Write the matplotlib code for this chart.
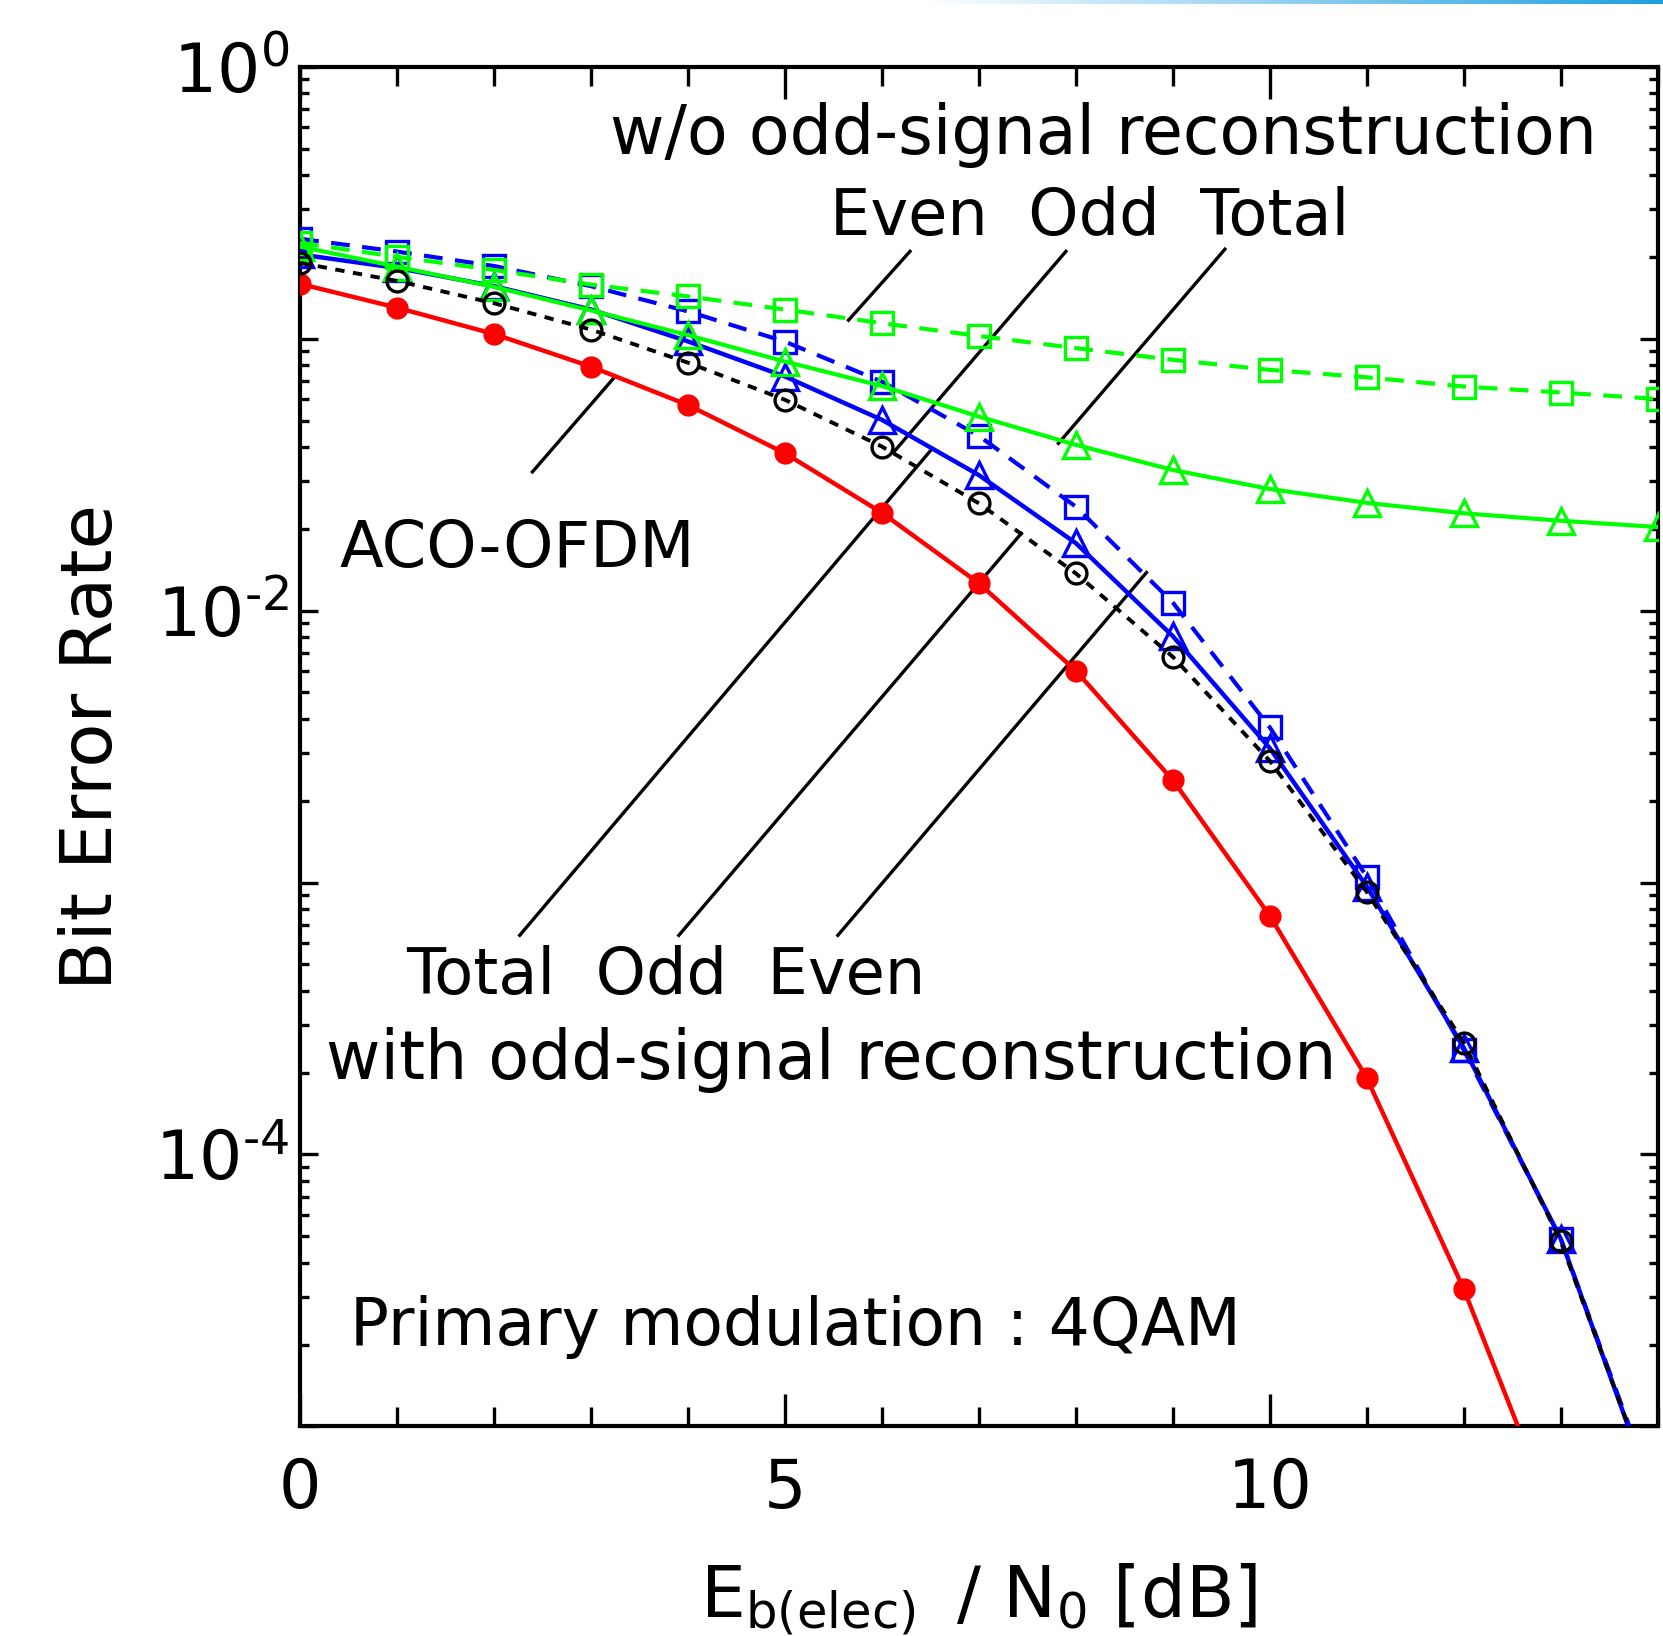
import numpy as np
import matplotlib.pyplot as plt
from matplotlib.ticker import FixedLocator, MultipleLocator, LogLocator, NullFormatter, FuncFormatter
from matplotlib.colors import LinearSegmentedColormap

plt.rcParams['font.family'] = ['DejaVu Sans']
plt.rcParams['mathtext.fontset'] = 'dejavusans'

# Eb(elec)/N0 [dB]
ebn0 = list(range(15))
ebn0_aco = list(range(14))

# BER curves
ber_aco = [0.159, 0.130, 0.104, 0.0789, 0.0570, 0.0379, 0.0229, 0.0126,
           0.00601, 0.00238, 7.55e-4, 1.91e-4, 3.20e-5, 4.0e-6]
ber_rec_total = [0.190, 0.163, 0.135, 0.108, 0.0816, 0.0596, 0.0401, 0.0248,
                 0.0137, 0.00676, 0.00280, 9.24e-4, 2.58e-4, 4.79e-5, 5.1e-6]
ber_rec_odd = [0.204, 0.182, 0.156, 0.128, 0.0977, 0.0726, 0.0503, 0.0315,
               0.0177, 0.00805, 0.00312, 9.67e-4, 2.47e-4, 4.90e-5, 5.0e-6]
ber_rec_even = [0.233, 0.209, 0.185, 0.156, 0.126, 0.0975, 0.0695, 0.0439,
                0.0241, 0.0107, 0.00372, 0.00105, 2.42e-4, 4.9e-5, 5.2e-6]
ber_wo_odd = [0.218, 0.184, 0.155, 0.127, 0.103, 0.0824, 0.0670, 0.0517,
              0.0407, 0.0329, 0.0280, 0.0249, 0.0228, 0.0214, 0.0203]
ber_wo_even = [0.225, 0.200, 0.179, 0.158, 0.143, 0.128, 0.114, 0.1023,
               0.0923, 0.0836, 0.0768, 0.0721, 0.0667, 0.0634, 0.0600]

# annotation texts (x, log10 y, size)
labels = ['w/o odd-signal reconstruction', 'Even  Odd  Total', 'ACO-OFDM',
          'Total  Odd  Even', 'with odd-signal reconstruction',
          'Primary modulation : 4QAM']
label_pos = [(8.28, -0.320), (8.14, -0.620), (2.24, -1.841),
             (3.77, -3.409), (5.48, -3.721), (5.11, -4.70)]
label_size = [48, 46, 46, 46, 48, 46.5]

# pointer lines (x0, log y0, x1, log y1)
pointers = [(2.395, -1.490, 3.248, -1.139),
            (5.655, -0.932, 6.289, -0.679),
            (6.114, -1.420, 7.897, -0.679),
            (7.820, -1.385, 9.537, -0.671),
            (2.264, -3.194, 6.519, -1.404),
            (3.905, -3.194, 7.437, -1.716),
            (5.545, -3.194, 8.728, -1.860)]

fig = plt.figure(figsize=(16.63, 16.36), dpi=100)
ax = fig.add_axes([0.1805, 0.1281, 0.8163, 0.8311])

ax.plot(ebn0_aco, ber_aco, color='#ff0000', lw=3.2, marker='o', ms=15, zorder=3)
ax.plot(ebn0, ber_rec_even, color='#0000ff', lw=3.0, dashes=(4.5, 3), marker='s',
        ms=16, mfc='none', mew=2.4, zorder=3)
ax.plot(ebn0, ber_rec_odd, color='#0000ff', lw=3.2, marker='^', ms=19,
        mfc='none', mew=2.4, zorder=3)
ax.plot(ebn0, ber_wo_even, color='#00ff00', lw=3.0, dashes=(4.5, 3), marker='s',
        ms=16, mfc='none', mew=2.4, zorder=3)
ax.plot(ebn0, ber_wo_odd, color='#00ff00', lw=3.0, marker='^', ms=19,
        mfc='none', mew=2.4, zorder=3)
ax.plot(ebn0, ber_rec_total, color='black', lw=2.8, dashes=(2.4, 2.2), marker='o',
        ms=15, mfc='none', mew=2.4, zorder=3)

for x0, y0, x1, y1 in pointers:
    ax.plot([x0, x1], [10 ** y0, 10 ** y1], color='black', lw=2.4, zorder=2)

for s, (x, ly), fs in zip(labels, label_pos, label_size):
    ax.text(x, 10 ** ly, s, ha='center', va='baseline', fontsize=fs, zorder=4)

ax.set_yscale('log')
ax.set_xlim(0, 14)
ax.set_ylim(1e-5, 1)

ax.xaxis.set_major_locator(FixedLocator([0, 5, 10]))
ax.xaxis.set_minor_locator(MultipleLocator(1))
ax.yaxis.set_major_locator(LogLocator(base=10, numticks=20))
ax.yaxis.set_minor_locator(LogLocator(base=10, subs=np.arange(2, 10), numticks=20))
ax.yaxis.set_minor_formatter(NullFormatter())


def ylab(v, pos):
    e = int(round(np.log10(v)))
    if e % 2 != 0:
        return ''
    exp = str(e).replace('-', '\u2010')
    return r'$\mathregular{10^{%s}}$' % exp


ax.yaxis.set_major_formatter(FuncFormatter(ylab))

ax.tick_params(axis='x', which='major', direction='in', length=23, width=2.4,
               top=True, labelsize=48, pad=21)
ax.tick_params(axis='x', which='minor', direction='in', length=14, width=2.4, top=True)
ax.tick_params(axis='y', which='major', direction='in', length=13, width=2.4,
               right=True, labelsize=49, pad=8)
ax.tick_params(axis='y', which='minor', direction='in', length=6.5, width=2.4, right=True)
for sp in ax.spines.values():
    sp.set_linewidth(3)

ax.set_xlabel('E$_{\\mathregular{b(elec)}}$ \u2009/ N$_{\\mathregular{0}}$ [dB]',
              fontsize=51, va='baseline')
ax.xaxis.set_label_coords(0.5, -0.140)
ax.set_ylabel('Bit Error Rate', fontsize=52, va='center')
ax.yaxis.set_label_coords(-0.153, 0.5)

# thin blue gradient strip along the top edge
gax = fig.add_axes([0.555, 0.9975, 0.445, 0.0025])
cmap = LinearSegmentedColormap.from_list('strip', ['white', '#1f9fe0'])
gax.imshow(np.linspace(0, 1, 256)[None, :], cmap=cmap, aspect='auto')
gax.axis('off')

fig.savefig('out.png', dpi=100)
